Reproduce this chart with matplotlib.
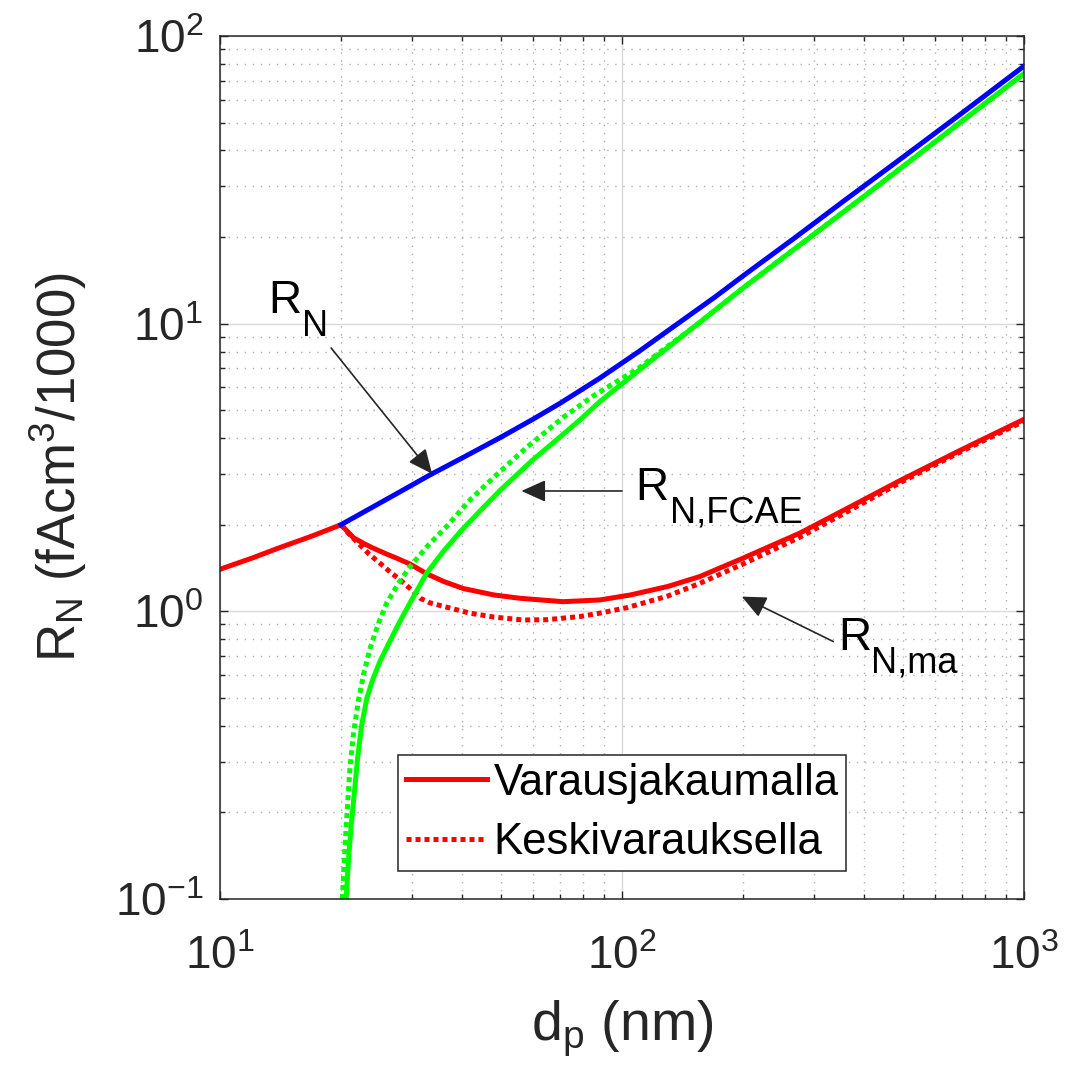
import matplotlib
matplotlib.use("Agg")
import matplotlib.pyplot as plt
import numpy as np

plt.rcParams['font.family'] = 'Liberation Sans'
plt.rcParams['mathtext.fontset'] = 'custom'
plt.rcParams['mathtext.rm'] = 'Liberation Sans'
plt.rcParams['mathtext.it'] = 'Liberation Sans:italic'
plt.rcParams['mathtext.bf'] = 'Liberation Sans:bold'

# particle diameter (nm) and response values (fAcm^3/1000)
dp_blue = [20, 25, 28, 33.3, 40, 50, 60, 70.2, 88, 110, 135, 170, 200, 270,
           355, 510, 700, 1000]
rn_blue = [2.0, 2.38, 2.6, 2.98, 3.41, 4.03, 4.65, 5.29, 6.46, 7.99, 9.81,
           12.35, 14.65, 19.95, 26.6, 38.7, 53.9, 78.6]

dp_fcae = [20.6, 20.9, 21.2, 21.5, 22.0, 22.5, 23.2, 24.0, 25.0, 26.5, 28.0,
           29.7, 32.7, 36, 40, 45, 50, 60, 70, 78.6, 88.1, 110, 153.5, 200,
           250, 383.6, 600, 1000]
rn_fcae = [0.1, 0.14, 0.18, 0.22, 0.31, 0.40, 0.50, 0.58, 0.67, 0.79, 0.92,
           1.07, 1.36, 1.62, 1.92, 2.28, 2.65, 3.36, 4.03, 4.63, 5.36, 6.87,
           9.92, 13.3, 16.85, 26.5, 42.8, 74.0]

dp_fcae_mean = [20.15, 20.4, 20.66, 21.06, 21.5, 22.1, 22.8, 23.6, 24.8,
                26.0, 27.8, 29.7, 33, 36.6, 42, 48.7, 58, 71.4, 85, 100, 110,
                130, 153.5, 200, 250, 383.6, 600, 1000]
rn_fcae_mean = [0.1, 0.14, 0.19, 0.288, 0.38, 0.49, 0.61, 0.74, 0.91, 1.07,
                1.25, 1.43, 1.7, 1.97, 2.45, 2.98, 3.72, 4.72, 5.62, 6.45,
                7.0, 8.35, 9.92, 13.3, 16.85, 26.5, 42.8, 74.0]

dp_ma = [10, 12, 14, 17, 20, 21.5, 22.8, 24, 26, 27.5, 29.7, 32.7, 36, 40.3,
         48, 55.7, 71.4, 88, 105, 130, 156, 200, 277, 370, 492, 700, 1000]
rn_ma = [1.40, 1.53, 1.66, 1.83, 2.0, 1.80, 1.72, 1.66, 1.58, 1.53, 1.46,
         1.35, 1.27, 1.20, 1.14, 1.11, 1.08, 1.095, 1.14, 1.22, 1.32, 1.53,
         1.87, 2.31, 2.85, 3.65, 4.65]

dp_ma_mean = [20, 21, 22.3, 23.5, 25, 26.5, 28, 29.7, 31.5, 33.3, 36, 38,
              41.9, 48, 56.8, 65, 78.6, 88, 103, 130, 156, 200, 277, 370, 492,
              700, 1000]
rn_ma_mean = [2.0, 1.85, 1.70, 1.58, 1.47, 1.37, 1.29, 1.20, 1.11, 1.07,
              1.04, 1.02, 0.985, 0.955, 0.933, 0.935, 0.959, 0.985, 1.03,
              1.13, 1.25, 1.46, 1.81, 2.25, 2.80, 3.60, 4.58]

labels = ['Varausjakaumalla', 'Keskivarauksella']

dark = '#262626'
dotted = (0, (1, 0.8))

fig = plt.figure(figsize=(10.7, 10.81), dpi=100)
ax = fig.add_axes([0.2056, 0.1684, 0.7514, 0.7983])

ax.plot(dp_ma_mean, rn_ma_mean, color='red', lw=3.6, ls=dotted, label=labels[1])
ax.plot(dp_ma, rn_ma, color='red', lw=3.6, label=labels[0])
ax.plot(dp_fcae, rn_fcae, color='#00ff00', lw=3.6)
ax.plot(dp_fcae_mean, rn_fcae_mean, color='#00ff00', lw=3.6, ls=dotted)
ax.plot(dp_blue, rn_blue, color='blue', lw=3.6)

ax.set_xscale('log')
ax.set_yscale('log')
ax.set_xlim(10, 1000)
ax.set_ylim(0.1, 100)

ax.set_axisbelow(True)
ax.grid(which='major', color='#dadada', lw=1.0, ls='-')
ax.grid(which='minor', color='#b0b0b0', lw=1.0, ls=(0, (1, 4.8)))

ax.tick_params(which='both', direction='in', top=True, right=True,
               color=dark, labelcolor=dark, width=1.0)
ax.tick_params(which='major', length=6, labelsize=33)
ax.tick_params(axis='x', which='major', pad=26)
ax.tick_params(axis='y', which='major', pad=12)
ax.tick_params(which='minor', length=3.5)
for sp in ax.spines.values():
    sp.set_color(dark)
    sp.set_linewidth(1.1)

ax.set_xlabel(r'd$_\mathrm{p}$ (nm)', fontsize=40, color=dark)
ax.set_ylabel(r'R$_\mathrm{N}$ (fAcm$^\mathrm{3}$/1000)', fontsize=38, color=dark)
ax.xaxis.set_label_coords(0.5, -0.115)
ax.yaxis.set_label_coords(-0.163, 0.5)


def sub_label(x, y, sub, sub_dx):
    # "R" with a lowered subscript drawn as a second text
    ax.text(x, y, 'R', fontsize=33, color='black', ha='left', va='baseline')
    ax.annotate(sub, xy=(x, y), xytext=(sub_dx, -16.5),
                textcoords='offset points', fontsize=26, color='black',
                ha='left', va='baseline')


# arrow annotations for the three curve families
arrow = dict(arrowstyle='-|>,head_length=1.0,head_width=0.45', color=dark,
             lw=1.2, mutation_scale=15, shrinkA=0, shrinkB=0)

tip_x = 33.7
tip_y = 10 ** np.interp(np.log10(tip_x), np.log10(dp_blue), np.log10(rn_blue))
ax.annotate('', xy=(tip_x, tip_y), xytext=(18.9, 8.23), arrowprops=arrow)
sub_label(13.16, 10.9, 'N', 24.5)

ax.annotate('', xy=(56.2, 2.62), xytext=(100, 2.62), arrowprops=arrow)
sub_label(107.7, 2.44, 'N,FCAE', 25)

ax.annotate('', xy=(198.6, 1.125), xytext=(335.5, 0.785), arrowprops=arrow)
sub_label(344.6, 0.734, 'N,ma', 24)

h, l = ax.get_legend_handles_labels()
leg = ax.legend([h[1], h[0]], [l[1], l[0]], loc='lower left',
                bbox_to_anchor=(0.2214, 0.0324), borderaxespad=0,
                fontsize=31.5, frameon=True, fancybox=False, framealpha=1,
                edgecolor=dark, handlelength=1.85, handletextpad=0.15,
                borderpad=0.18, labelspacing=0.42)
leg.get_frame().set_linewidth(1.1)

fig.savefig('out.png', dpi=100)
